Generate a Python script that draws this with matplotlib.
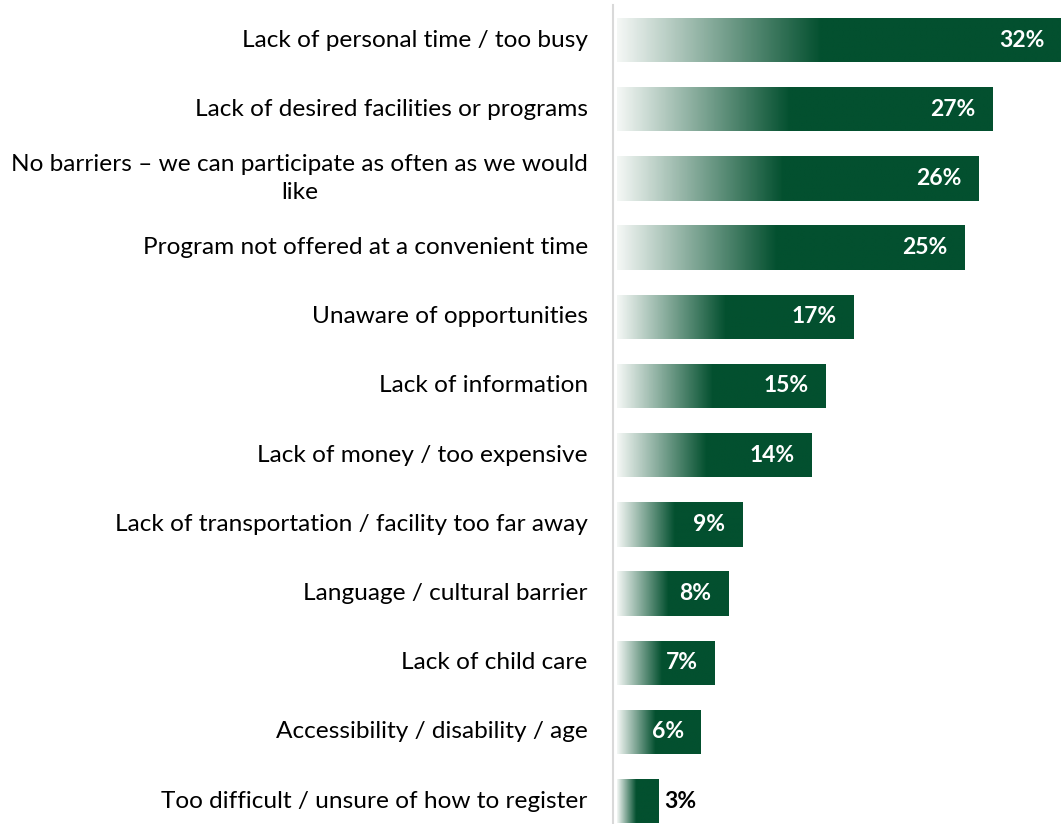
import numpy as np
import matplotlib
matplotlib.use("Agg")
import matplotlib.pyplot as plt
from matplotlib.colors import LinearSegmentedColormap

# Données
categories = [
    "Lack of personal time / too busy",
    "Lack of desired facilities or programs",
    "No barriers \u2013 we can participate as often as we would\nlike",
    "Program not offered at a convenient time",
    "Unaware of opportunities",
    "Lack of information",
    "Lack of money / too expensive",
    "Lack of transportation / facility too far away",
    "Language / cultural barrier",
    "Lack of child care",
    "Accessibility / disability / age",
    "Too difficult / unsure of how to register",
]
valeurs = [32, 27, 26, 25, 17, 15, 14, 9, 8, 7, 6, 3]

VERT = "#03502f"
degrade = LinearSegmentedColormap.from_list("degrade", ["#f4f7f5", VERT])

plt.rcParams["font.family"] = ["Lato", "DejaVu Sans"]

fig = plt.figure(figsize=(10.61, 8.24), dpi=100, facecolor="white")
ax = fig.add_axes([613 / 1061, 0, 448 / 1061, 819 / 824])

y = np.arange(len(valeurs))
hauteur = 0.64
barres = ax.barh(y, valeurs, height=hauteur, color=VERT, zorder=2)

# Dégradé horizontal : clair à gauche, vert plein après ~46 % de la barre
t = np.linspace(0, 1, 256)
grad = np.clip(t / 0.46, 0, 1)[np.newaxis, :]
for b in barres:
    x0, y0 = b.get_x(), b.get_y()
    w, h = b.get_width(), b.get_height()
    im = ax.imshow(grad, cmap=degrade, vmin=0, vmax=1, aspect="auto",
                   extent=[x0, x0 + w, y0 + h, y0], zorder=3,
                   interpolation="bilinear")
    im.set_clip_path(b)

# Étiquettes de valeurs
for i, v in enumerate(valeurs):
    if v >= 5:
        ax.text(v - 1.2, i, f"{v}%", ha="right", va="center", color="white",
                fontsize=16.5, fontweight="bold", zorder=4)
    else:
        ax.text(v + 0.4, i, f"{v}%", ha="left", va="center", color="black",
                fontsize=16.5, fontweight="bold", zorder=4)

# Libellés des catégories
for i, c in enumerate(categories):
    ax.text(-2.1, i, c, ha="right", va="center", multialignment="center",
            fontsize=17.6, color="black", linespacing=1.45,
            transform=ax.transData, clip_on=False)

ax.set_xlim(-0.29, 31.95)
ax.set_ylim(11.33, -0.506)
ax.set_xticks([])
ax.set_yticks([])
for s in ["top", "right", "bottom"]:
    ax.spines[s].set_visible(False)
ax.spines["left"].set_color("#d9d9d9")
ax.spines["left"].set_linewidth(1.5)

fig.savefig("out.png", dpi=100, facecolor="white")
